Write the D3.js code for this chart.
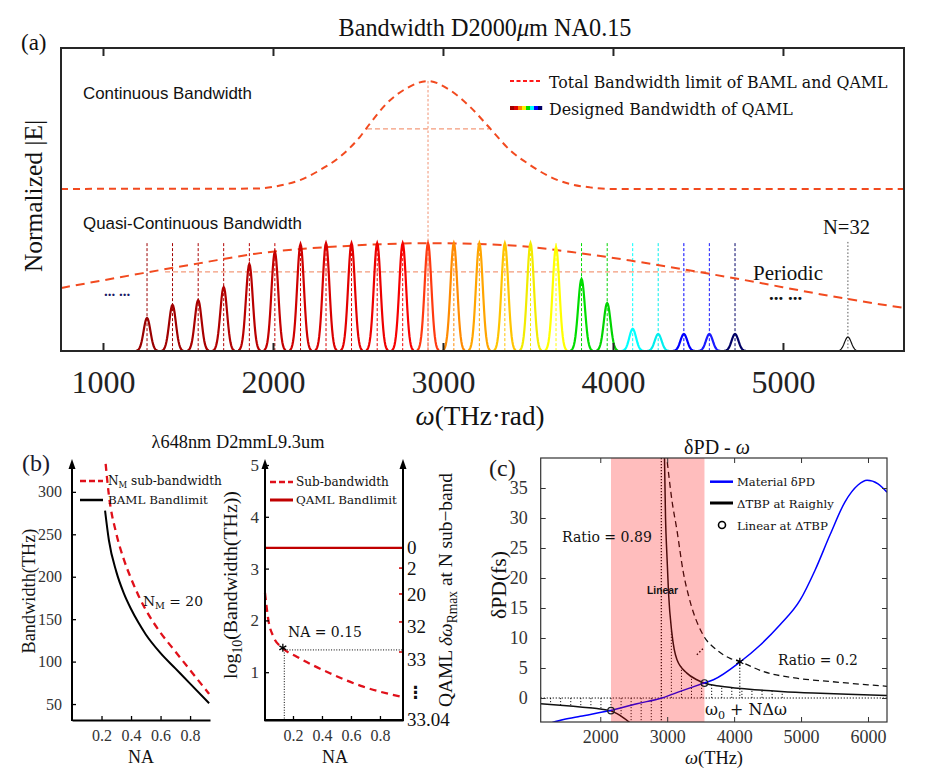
<!DOCTYPE html>
<html><head><meta charset="utf-8">
<script src="https://cdn.jsdelivr.net/npm/d3@7/dist/d3.min.js"></script>
<style>html,body{margin:0;padding:0;background:#fff;}svg{display:block;}</style>
</head><body>
<svg id="chart" width="933" height="775"></svg>
<script>
// ================= DATA =================
// ---- Panel (a) ----
const aTicks = [1000, 2000, 3000, 4000, 5000];
const contOmega = [753,1900,2041,2159,2276,2394,2512,2571,2669,2786,2912,3041,3159,3276,3394,3512,3629,3747,3865,3982,5712];
const contE     = [0.535,0.536,0.546,0.564,0.597,0.641,0.707,0.751,0.817,0.867,0.891,0.861,0.806,0.735,0.663,0.614,0.575,0.551,0.540,0.535,0.535];
const contHalfOmega = [2553, 3271];
const contHalfLevel = 0.733;
const envOmega = [753,1235,1571,1924,2412,2912,3382,3806,4118,4706,5376,5712];
const envE     = [0.208,0.257,0.290,0.323,0.346,0.356,0.349,0.323,0.297,0.241,0.172,0.142];
const envHalfOmega = [1365, 4571];
const envHalfLevel = 0.261;
const omega0 = 2912;
const omega0Peak = 0.891;
const subOmega = [1259,1409,1560,1710,1861,2011,2162,2312,2462,2613,2763,2912,3064,3214,3364,3515,3665,3815,3966,4116,4266,4417,4567,4718];
const subAmp   = [0.109,0.152,0.168,0.211,0.287,0.327,0.353,0.356,0.356,0.356,0.356,0.356,0.356,0.356,0.356,0.356,0.343,0.238,0.158,0.073,0.056,0.056,0.056,0.056];
const subColor = ['#9a0000','#a10000','#a90000','#b10000','#b90000','#c40000','#cf0000','#d90000','#e30000','#ed0000','#f70000','#ff3a10','#ff8a00','#ffa500','#ffc400','#f2ec00','#ffff00','#00dd00','#00d400','#00ffff','#00eeee','#0000ff','#1a1aff','#000066'];
const subWidth = 20;           // THz, half-width parameter of each sub-band peak
const stemTopE = 0.356;
const n32Omega = 5382, n32Amp = 0.046;
const legendGrad = ['#a00000','#e00000','#ff8000','#ffee00','#00dd00','#00ffff','#0000ff','#000066'];

// ---- Panel (b) left ----
const naTicks = [0.2, 0.4, 0.6, 0.8];
const b1Ticks = [50, 100, 150, 200, 250, 300];
const bamlNA = [0.224,0.25,0.3,0.35,0.4,0.45,0.5,0.6,0.7,0.8,0.929];
const bamlBW = [278,243,206,181,162,146,132,110,92,74,51];
const nmNA   = [0.228,0.25,0.3,0.35,0.4,0.45,0.5,0.6,0.7,0.8,0.929];
const nmBW   = [333,296,251,221,198,178,161,134,112,90,62];

// ---- Panel (b) right ----
const b2Ticks = [1, 2, 3, 4, 5];
const subNA  = [0.007,0.03,0.064,0.122,0.226,0.455,0.685,0.938];
const subLog = [2.53,2.01,1.69,1.48,1.30,0.98,0.72,0.53];
const qamlLog = 3.40;
const starNA = 0.13, starLog = 1.47;
const markNA = 0.14, markLog = 1.43;
const rightTickLog   = [3.40, 3.01, 2.51, 1.89, 1.24, 0.62, 0.08];
const rightTickLabel = ['0', '2', '20', '32', '33', '⋮', '33.04'];
const redTickLog = [3.01, 2.51, 1.97, 1.39];

// ---- Panel (c) ----
const cXTicks = [2000, 3000, 4000, 5000, 6000];
const cYTicks = [0, 5, 10, 15, 20, 25, 30, 35];
const blueOmega = [1250,1452,1701,2149,2548,2921,3194,3552,3691,4088,4387,4686,4985,5209,5433,5657,5851,5986,6150,6284];
const blueVal   = [-4.2,-3.6,-3.05,-2.1,-0.95,0,1.1,2.49,3.04,6.0,8.8,12.2,16.3,21.3,27.2,32.7,35.5,36.3,35.7,34.3];
const tbpPosOmega = [2958,2975,2995,3020,3070,3145,3294,3443,3552,3800,4190,4700,5184,5700,6284];
const tbpPosVal   = [41,30,24,17.5,10.8,6.4,4.15,3.04,2.49,1.95,1.5,1.1,0.83,0.62,0.43];
const tbpNegOmega = [1110,1400,1701,1950,2160,2250,2348,2430,2480];
const tbpNegVal   = [-0.95,-1.2,-1.5,-1.75,-2.15,-2.6,-3.3,-4.0,-4.5];
const ratioOmega = [2985,3020,3070,3145,3243,3320,3393,3470,3542,3741,3940,4090,4437,4900,5433,6000,6284];
const ratioVal   = [41,37.5,33,28,20.8,17,14.2,12,10.4,8.0,6.6,6.05,4.4,3.35,2.75,2.2,1.95];
const stemOmega = [1258,1408,1559,1709,1860,2010,2160,2311,2461,2611,2762,3062,3213,3363,3514,3664,3815,3965,4116,4266,4417,4567,4718];
const stemVal   = [-1.08,-1.2,-1.35,-1.5,-1.66,-1.87,-2.15,-3.05,-4,-4,-4,11.3,5.3,3.6,2.7,2.25,1.92,1.75,1.58,1.44,1.32,1.2,1.1];
const pinkRange = [2160, 3557];
const circOmega = [2160, 3557], circVal = [-2.1, 2.49];
const cStar = [4085, 6.05];
const ratioMarkOmega = [3443, 3542], ratioMarkVal = [7.2, 8.3];

// ================= DRAW =================
const svg = d3.select('#chart');
svg.append('rect').attr('width',933).attr('height',775).attr('fill','#fff');
const SERIF = '"Liberation Serif","Times New Roman",serif';
const CAMB  = '"DejaVu Serif",serif';
const SANS  = '"Liberation Sans",Arial,sans-serif';

function label(g, x, y, parts, o = {}) {
  const fs = o.fs || 16;
  const t = g.append('text').attr('x', x).attr('y', y)
    .attr('font-family', o.ff || SERIF).attr('font-size', fs)
    .attr('fill', o.fill || '#111').attr('text-anchor', o.anchor || 'start');
  if (o.weight) t.attr('font-weight', o.weight);
  if (o.rot != null) t.attr('transform', `rotate(${o.rot},${x},${y})`);
  if (typeof parts === 'string') parts = [{t: parts}];
  let inSub = false;
  parts.forEach(p => {
    const s = t.append('tspan').text(p.t);
    if (p.it) s.attr('font-style', 'italic');
    if (p.sub) { s.attr('font-size', '70%'); if (!inSub) { s.attr('dy', '0.35em'); inSub = true; } }
    else if (inSub) { s.attr('dy', '-0.245em'); inSub = false; }
  });
  if (o.w) { const L = t.node().getComputedTextLength(); if (L > 0) t.attr('font-size', fs * o.w / L); }
  return t;
}
const zip = (a, b) => a.map((v, i) => [v, b[i]]);

// ---------- Panel (a) ----------
const xa = d3.scaleLinear().domain([753, 5712]).range([61, 904]);
const ya = d3.scaleLinear().domain([0, 1]).range([351, 48]);
const ga = svg.append('g');
const lineA = d3.line().x(d => xa(d[0])).y(d => ya(d[1])).curve(d3.curveMonotoneX);
const ORR = '#f24a1f', LIGHT = '#f39a7b';

subOmega.forEach((w, i) => {
  ga.append('line').attr('x1', xa(w)).attr('x2', xa(w)).attr('y1', ya(stemTopE)).attr('y2', ya(0))
    .attr('stroke', subColor[i]).attr('stroke-width', 1).attr('stroke-dasharray', '3,2');
});
ga.append('line').attr('x1', xa(n32Omega)).attr('x2', xa(n32Omega)).attr('y1', ya(stemTopE + 0.004)).attr('y2', ya(0))
  .attr('stroke', '#444').attr('stroke-width', 0.9).attr('stroke-dasharray', '1.5,2');
ga.append('line').attr('x1', xa(omega0)).attr('x2', xa(omega0)).attr('y1', ya(omega0Peak)).attr('y2', ya(0))
  .attr('stroke', '#f4a58a').attr('stroke-width', 1.2).attr('stroke-dasharray', '2.5,2');
ga.append('line').attr('x1', xa(contHalfOmega[0])).attr('x2', xa(contHalfOmega[1])).attr('y1', ya(contHalfLevel)).attr('y2', ya(contHalfLevel))
  .attr('stroke', LIGHT).attr('stroke-width', 1.2).attr('stroke-dasharray', '5,3');
ga.append('line').attr('x1', xa(envHalfOmega[0])).attr('x2', xa(envHalfOmega[1])).attr('y1', ya(envHalfLevel)).attr('y2', ya(envHalfLevel))
  .attr('stroke', LIGHT).attr('stroke-width', 1.2).attr('stroke-dasharray', '5,3');
ga.append('path').attr('d', lineA(zip(contOmega, contE))).attr('fill', 'none').attr('stroke', ORR).attr('stroke-width', 2).attr('stroke-dasharray', '7,5');
ga.append('path').attr('d', lineA(zip(envOmega, envE))).attr('fill', 'none').attr('stroke', ORR).attr('stroke-width', 2).attr('stroke-dasharray', '9,6');
const pk = d3.line().x(d => xa(d[0])).y(d => ya(d[1]));
function peak(w, a, col, sw) {
  const pts = d3.range(-3.2, 3.21, 0.2).map(t => [w + t * subWidth, a * Math.exp(-t * t / 2)]);
  ga.append('path').attr('d', pk(pts)).attr('fill', 'none').attr('stroke', col).attr('stroke-width', sw);
}
subOmega.forEach((w, i) => peak(w, subAmp[i], subColor[i], 2.2));
peak(n32Omega, n32Amp, '#111', 1.2);

const axB = d3.axisBottom(xa).tickValues(aTicks).tickFormat(d3.format('d')).tickSizeInner(-8).tickSizeOuter(0).tickPadding(19);
const gAB = ga.append('g').attr('transform', 'translate(0,351)').call(axB);
gAB.select('.domain').remove();
gAB.selectAll('line').attr('stroke', '#262626').attr('stroke-width', 2);
gAB.selectAll('text').attr('font-family', SERIF).attr('font-size', 32).attr('fill', '#222');
const axT = d3.axisTop(xa).tickValues(aTicks).tickFormat('').tickSizeInner(-8).tickSizeOuter(0);
const gAT = ga.append('g').attr('transform', 'translate(0,48)').call(axT);
gAT.select('.domain').remove();
gAT.selectAll('line').attr('stroke', '#262626').attr('stroke-width', 2);
ga.append('rect').attr('x', 61).attr('y', 48).attr('width', 843).attr('height', 303)
  .attr('fill', 'none').attr('stroke', '#262626').attr('stroke-width', 2);

label(ga, 485, 36, [{t:'Bandwidth D2000'},{t:'μ',it:true},{t:'m NA0.15'}], {fs: 23, anchor: 'middle', w: 293});
label(ga, 21, 50, '(a)', {fs: 23});
label(ga, 42, 196, 'Normalized |E|', {fs: 25, anchor: 'middle', rot: -90, w: 152});
label(ga, 480, 425, [{t:'ω',it:true},{t:'(THz·rad)'}], {fs: 28, anchor: 'middle', w: 129});
label(ga, 83, 99, 'Continuous Bandwidth', {ff: SANS, fs: 16.5, w: 169});
label(ga, 83, 229, 'Quasi-Continuous Bandwidth', {ff: SANS, fs: 16.5, w: 219});
label(ga, 753, 280, 'Periodic', {fs: 21, w: 70});
label(ga, 823, 234, 'N=32', {fs: 21, w: 47});
label(ga, 104, 296, '... ...', {fs: 15, fill: '#1a1a66', weight: 'bold'});
label(ga, 769, 300, '... ...', {fs: 19, fill: '#111', weight: 'bold'});
ga.append('line').attr('x1', 510).attr('x2', 542).attr('y1', 81).attr('y2', 81)
  .attr('stroke', '#ff1a1a').attr('stroke-width', 1.8).attr('stroke-dasharray', '4,2.5');
label(ga, 549, 88, 'Total Bandwidth limit of BAML and QAML', {ff: CAMB, fs: 16, w: 339});
legendGrad.forEach((c, i) => {
  ga.append('rect').attr('x', 510 + i * 4).attr('y', 106).attr('width', 4.2).attr('height', 4).attr('fill', c);
});
label(ga, 549, 115, 'Designed Bandwidth of QAML', {ff: CAMB, fs: 16, w: 244});

// ---------- Panel (b) left ----------
const gb = svg.append('g');
const xb1 = d3.scaleLinear().domain([0, 0.935]).range([72, 210]);
const yb1 = d3.scaleLinear().domain([31.2, 334]).range([720, 463]);
const lineB1 = d3.line().x(d => xb1(d[0])).y(d => yb1(d[1])).curve(d3.curveMonotoneX);
gb.append('path').attr('d', lineB1(zip(bamlNA, bamlBW))).attr('fill', 'none').attr('stroke', '#000').attr('stroke-width', 2);
gb.append('path').attr('d', lineB1(zip(nmNA, nmBW))).attr('fill', 'none').attr('stroke', '#e0101a').attr('stroke-width', 2.3).attr('stroke-dasharray', '7,5');

function styleAxis(g, fs) {
  g.selectAll('line').attr('stroke', '#000').attr('stroke-width', 1.3);
  g.selectAll('text').attr('font-family', SERIF).attr('font-size', fs).attr('fill', '#333');
}
const gb1y = gb.append('g').attr('transform', 'translate(72,0)')
  .call(d3.axisLeft(yb1).tickValues(b1Ticks).tickFormat(d3.format('d')).tickSizeInner(-4).tickSizeOuter(0).tickPadding(10));
gb1y.select('.domain').remove(); styleAxis(gb1y, 16);
const gb1x = gb.append('g').attr('transform', 'translate(0,720)')
  .call(d3.axisBottom(xb1).tickValues(naTicks).tickFormat(d3.format('.1f')).tickSizeInner(-4).tickSizeOuter(0).tickPadding(9.5));
gb1x.select('.domain').attr('stroke', '#000').attr('stroke-width', 2); styleAxis(gb1x, 16);
function vArrow(g, x, yb, yt) {
  g.append('line').attr('x1', x).attr('x2', x).attr('y1', yb + 1).attr('y2', yt + 6).attr('stroke', '#000').attr('stroke-width', 2);
  g.append('path').attr('d', `M${x},${yt}L${x - 3.5},${yt + 10}L${x + 3.5},${yt + 10}Z`).attr('fill', '#000');
}
vArrow(gb, 72, 720, 459);
gb.append('line').attr('x1', 80).attr('x2', 103).attr('y1', 481).attr('y2', 481).attr('stroke', '#e0101a').attr('stroke-width', 2.3).attr('stroke-dasharray', '6,3');
label(gb, 108, 485, [{t:'N'},{t:'M',sub:true},{t:' sub-bandwidth'}], {ff: CAMB, fs: 12, w: 114});
gb.append('line').attr('x1', 80).attr('x2', 103).attr('y1', 500).attr('y2', 500).attr('stroke', '#000').attr('stroke-width', 2.5);
label(gb, 108, 504, 'BAML Bandlimit', {ff: CAMB, fs: 12, w: 100});
label(gb, 143, 606, [{t:'N'},{t:'M',sub:true},{t:' = 20'}], {ff: CAMB, fs: 15, w: 60});
label(gb, 35, 591, 'Bandwidth(THz)', {fs: 18, anchor: 'middle', rot: -90, w: 125});
label(gb, 141, 763, 'NA', {fs: 18, anchor: 'middle'});
label(gb, 22, 471, '(b)', {fs: 24, fill: '#1a1a2e'});
label(gb, 238, 448, 'λ648nm D2mmL9.3um', {fs: 18, anchor: 'middle', w: 173});

// ---------- Panel (b) right ----------
const xb2 = d3.scaleLinear().domain([0, 0.959]).range([264, 403]);
const yb2 = d3.scaleLinear().domain([0, 5]).range([724, 465]);
const lineB2 = d3.line().x(d => xb2(d[0])).y(d => yb2(d[1])).curve(d3.curveMonotoneX);
gb.append('line').attr('x1', xb2(markNA)).attr('x2', xb2(markNA)).attr('y1', yb2(markLog)).attr('y2', 720)
  .attr('stroke', '#000').attr('stroke-width', 1).attr('stroke-dasharray', '1,1.6');
gb.append('line').attr('x1', xb2(markNA)).attr('x2', 403).attr('y1', yb2(markLog)).attr('y2', yb2(markLog))
  .attr('stroke', '#000').attr('stroke-width', 1).attr('stroke-dasharray', '1,1.6');
gb.append('line').attr('x1', 265).attr('x2', 403).attr('y1', yb2(qamlLog)).attr('y2', yb2(qamlLog)).attr('stroke', '#c00000').attr('stroke-width', 2.2);
gb.append('path').attr('d', lineB2(zip(subNA, subLog))).attr('fill', 'none').attr('stroke', '#e0101a').attr('stroke-width', 2.3).attr('stroke-dasharray', '7,5');
const starSym = d3.symbol().type(d3.symbolAsterisk || d3.symbolCross).size(45);
gb.append('path').attr('d', starSym()).attr('transform', `translate(${xb2(starNA)},${yb2(starLog)})`).attr('fill', 'none').attr('stroke', '#000').attr('stroke-width', 1.3);

const gb2y = gb.append('g').attr('transform', 'translate(265,0)')
  .call(d3.axisLeft(yb2).tickValues(b2Ticks).tickFormat(d3.format('d')).tickSizeInner(-4).tickSizeOuter(0).tickPadding(6));
gb2y.select('.domain').remove(); styleAxis(gb2y, 17);
const gb2x = gb.append('g').attr('transform', 'translate(0,720)')
  .call(d3.axisBottom(xb2).tickValues(naTicks).tickFormat(d3.format('.1f')).tickSizeInner(-4).tickSizeOuter(0).tickPadding(10));
gb2x.select('.domain').attr('stroke', '#000').attr('stroke-width', 2); styleAxis(gb2x, 16);
const gb2r = gb.append('g').attr('transform', 'translate(403,0)')
  .call(d3.axisRight(yb2).tickValues(rightTickLog).tickFormat((d, i) => rightTickLabel[i]).tickSize(0).tickPadding(4));
gb2r.select('.domain').remove(); styleAxis(gb2r, 19);
gb2r.selectAll('text').attr('fill', '#111').filter(d => d === rightTickLog[5]).attr('font-weight', 'bold').attr('font-family', '"DejaVu Sans",sans-serif').attr('font-size', 17);
redTickLog.forEach(v => gb.append('line').attr('x1', 399).attr('x2', 402).attr('y1', yb2(v)).attr('y2', yb2(v)).attr('stroke', '#d00000').attr('stroke-width', 1.5));
vArrow(gb, 265, 720, 459);
vArrow(gb, 403, 720, 459);
gb.append('line').attr('x1', 264).attr('x2', 404).attr('y1', 720).attr('y2', 720).attr('stroke', '#000').attr('stroke-width', 2);
gb.append('line').attr('x1', 270).attr('x2', 293).attr('y1', 482).attr('y2', 482).attr('stroke', '#e0101a').attr('stroke-width', 2.3).attr('stroke-dasharray', '6,3');
label(gb, 296, 486, 'Sub-bandwidth', {ff: CAMB, fs: 12, w: 93});
gb.append('line').attr('x1', 270).attr('x2', 293).attr('y1', 500).attr('y2', 500).attr('stroke', '#c00000').attr('stroke-width', 3);
label(gb, 296, 504, 'QAML Bandlimit', {ff: CAMB, fs: 12, w: 101});
label(gb, 288, 637, 'NA = 0.15', {ff: CAMB, fs: 14, w: 74});
label(gb, 237, 585, [{t:'log'},{t:'10',sub:true},{t:'(Bandwidth(THz))'}], {fs: 18, anchor: 'middle', rot: -90, w: 188});
label(gb, 335, 763, 'NA', {fs: 18, anchor: 'middle'});
label(gb, 452, 590, [{t:'QAML '},{t:'δω',it:true},{t:'Rmax',sub:true},{t:' at N sub−band'}], {fs: 18, anchor: 'middle', rot: -90, w: 234});

// ---------- Panel (c) ----------
const gc = svg.append('g');
const xc = d3.scaleLinear().domain([1110, 6284]).range([540.7, 887]);
const yc = d3.scaleLinear().domain([-4, 40]).range([722, 458]);
svg.append('defs').append('clipPath').attr('id', 'clipc').append('rect')
  .attr('x', 540.7).attr('y', 458).attr('width', 346.3).attr('height', 264);
const gcc = gc.append('g').attr('clip-path', 'url(#clipc)');
const lineC = d3.line().x(d => xc(d[0])).y(d => yc(d[1])).curve(d3.curveMonotoneX);
const DOT = '1.2,1.8';
stemOmega.forEach((w, i) => {
  gcc.append('line').attr('x1', xc(w)).attr('x2', xc(w)).attr('y1', yc(0)).attr('y2', yc(stemVal[i]))
    .attr('stroke', '#000').attr('stroke-width', 0.9).attr('stroke-dasharray', DOT);
});
gcc.append('line').attr('x1', 540.7).attr('x2', 887).attr('y1', yc(0)).attr('y2', yc(0)).attr('stroke', '#000').attr('stroke-width', 1).attr('stroke-dasharray', DOT);
gcc.append('line').attr('x1', xc(omega0)).attr('x2', xc(omega0)).attr('y1', 458).attr('y2', 722).attr('stroke', '#000').attr('stroke-width', 1.2).attr('stroke-dasharray', DOT);
gcc.append('line').attr('x1', xc(cStar[0])).attr('x2', xc(cStar[0])).attr('y1', yc(cStar[1])).attr('y2', yc(0)).attr('stroke', '#000').attr('stroke-width', 1).attr('stroke-dasharray', DOT);
gcc.append('line').attr('x1', xc(ratioMarkOmega[0])).attr('x2', xc(ratioMarkOmega[1])).attr('y1', yc(ratioMarkVal[0])).attr('y2', yc(ratioMarkVal[1])).attr('stroke', '#000').attr('stroke-width', 1.4).attr('stroke-dasharray', '1.5,2');
gcc.append('path').attr('d', lineC(zip(ratioOmega, ratioVal))).attr('fill', 'none').attr('stroke', '#111').attr('stroke-width', 1.3).attr('stroke-dasharray', '6,4');
gcc.append('path').attr('d', lineC(zip(tbpNegOmega, tbpNegVal))).attr('fill', 'none').attr('stroke', '#111').attr('stroke-width', 1.5);
gcc.append('path').attr('d', lineC(zip(tbpPosOmega, tbpPosVal))).attr('fill', 'none').attr('stroke', '#111').attr('stroke-width', 1.5);
gcc.append('path').attr('d', lineC(zip(blueOmega, blueVal))).attr('fill', 'none').attr('stroke', '#0000ff').attr('stroke-width', 1.5);
gcc.append('rect').attr('x', xc(pinkRange[0])).attr('y', 458).attr('width', xc(pinkRange[1]) - xc(pinkRange[0])).attr('height', 264)
  .attr('fill', 'rgba(255,0,0,0.26)');
circOmega.forEach((w, i) => gcc.append('circle').attr('cx', xc(w)).attr('cy', yc(circVal[i])).attr('r', 3.3).attr('fill', 'none').attr('stroke', '#222').attr('stroke-width', 1.2));
gcc.append('path').attr('d', starSym()).attr('transform', `translate(${xc(cStar[0])},${yc(cStar[1])})`).attr('fill', 'none').attr('stroke', '#000').attr('stroke-width', 1.3);

function boxAxis(g, axis, tr) {
  const a = g.append('g').attr('transform', tr).call(axis);
  a.select('.domain').remove();
  a.selectAll('line').attr('stroke', '#333').attr('stroke-width', 1);
  a.selectAll('text').attr('font-family', SERIF).attr('font-size', 18).attr('fill', '#333');
  return a;
}
boxAxis(gc, d3.axisBottom(xc).tickValues(cXTicks).tickFormat(d3.format('d')).tickSizeInner(-5).tickSizeOuter(0).tickPadding(8), 'translate(0,722)');
boxAxis(gc, d3.axisTop(xc).tickValues(cXTicks).tickFormat('').tickSizeInner(-5).tickSizeOuter(0), 'translate(0,458)');
boxAxis(gc, d3.axisLeft(yc).tickValues(cYTicks).tickSizeInner(-5).tickSizeOuter(0).tickPadding(13), 'translate(540.7,0)');
boxAxis(gc, d3.axisRight(yc).tickValues(cYTicks).tickFormat('').tickSizeInner(-5).tickSizeOuter(0), 'translate(887,0)');
gc.append('rect').attr('x', 540.7).attr('y', 458).attr('width', 346.3).attr('height', 264).attr('fill', 'none').attr('stroke', '#333').attr('stroke-width', 1.2);

label(gc, 717, 454, [{t:'δPD - '},{t:'ω',it:true}], {fs: 19, anchor: 'middle', w: 66});
label(gc, 489, 476, '(c)', {fs: 24, fill: '#221a1a'});
label(gc, 506, 585, 'δPD(fs)', {fs: 19, anchor: 'middle', rot: -90, w: 68});
label(gc, 714, 764, [{t:'ω',it:true},{t:'(THz)'}], {fs: 19, anchor: 'middle', w: 58});
label(gc, 562, 542, 'Ratio = 0.89', {ff: CAMB, fs: 15, w: 90});
label(gc, 647, 594, 'Linear', {ff: SANS, fs: 10.5, weight: 'bold', w: 31});
label(gc, 778, 665, 'Ratio = 0.2', {ff: CAMB, fs: 15, w: 80});
label(gc, 705, 715, [{t:'ω'},{t:'0',sub:true},{t:' + NΔω'}], {ff: CAMB, fs: 17, w: 82});
gc.append('line').attr('x1', 710).attr('x2', 733).attr('y1', 481.7).attr('y2', 481.7).attr('stroke', '#0000ff').attr('stroke-width', 2.5);
label(gc, 737, 486, 'Material δPD', {ff: CAMB, fs: 12, w: 78});
gc.append('line').attr('x1', 710).attr('x2', 733).attr('y1', 503).attr('y2', 503).attr('stroke', '#000').attr('stroke-width', 3);
label(gc, 737, 508, 'ΔTBP at Raighly', {ff: CAMB, fs: 12, w: 97});
gc.append('circle').attr('cx', 722).attr('cy', 525).attr('r', 3.5).attr('fill', 'none').attr('stroke', '#000').attr('stroke-width', 1.6);
label(gc, 737, 530, 'Linear at ΔTBP', {ff: CAMB, fs: 12, w: 91});
</script>
</body></html>
